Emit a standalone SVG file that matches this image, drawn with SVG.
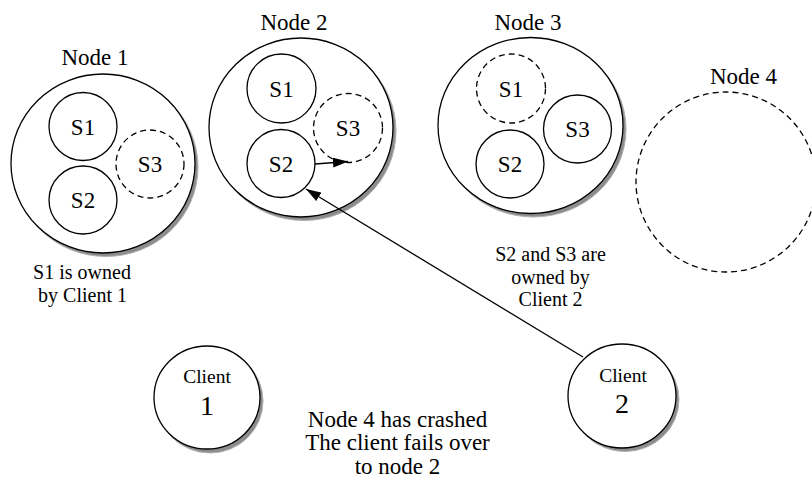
<svg xmlns="http://www.w3.org/2000/svg" width="812" height="482" viewBox="0 0 812 482">
  <defs>
    <marker id="arrow" viewBox="0 0 15 10" refX="15" refY="5" markerWidth="15" markerHeight="10" markerUnits="userSpaceOnUse" orient="auto">
      <path d="M0,0 L15,5 L0,10 Z" fill="#000"/>
    </marker>
  </defs>
  <style>
    text { font-family: 'Liberation Serif', 'DejaVu Serif', 'Times New Roman', Times, serif; fill: #000; text-anchor: middle; }
    .title { font-size: 23px; }
    .slot { font-size: 23px; }
    .note { font-size: 20px; }
    .big { font-size: 23px; }
    .cl { font-size: 19.5px; }
    .num { font-size: 28px; }
    .shadow { fill: #8c8c8c; stroke: #b0b0b0; stroke-width: 1; }
    .solid { fill: #fff; stroke: #000; stroke-width: 1.3; }
    .dashed { fill: none; stroke: #000; stroke-width: 1.3; stroke-dasharray: 6 4; }
    .link { fill: none; stroke: #000; stroke-width: 1.3; }
  </style>
  <rect width="812" height="482" fill="#fff"/>

  <g font-family="Liberation Serif, DejaVu Serif, serif">
  <!-- Node 1 -->
  <g id="node1">
    <text class="title" x="95" y="65">Node 1</text>
    <ellipse class="shadow" cx="106" cy="167" rx="92" ry="89.5"/>
    <ellipse class="solid" cx="103" cy="163.5" rx="92" ry="89.5"/>
    <circle class="solid" cx="83" cy="126.5" r="34"/>
    <text class="slot" x="83" y="134.5">S1</text>
    <circle class="solid" cx="83" cy="200" r="34"/>
    <text class="slot" x="83" y="208">S2</text>
    <circle class="dashed" cx="150" cy="164" r="34"/>
    <text class="slot" x="150" y="172">S3</text>
  </g>

  <!-- Node 2 -->
  <g id="node2">
    <text class="title" x="294" y="30">Node 2</text>
    <ellipse class="shadow" cx="304" cy="131" rx="92" ry="89.5"/>
    <ellipse class="solid" cx="301" cy="127.5" rx="92" ry="89.5"/>
    <circle class="solid" cx="281.5" cy="88.5" r="34.5"/>
    <text class="slot" x="281.5" y="96.5">S1</text>
    <circle class="solid" cx="281" cy="163.5" r="34"/>
    <text class="slot" x="281" y="171.5">S2</text>
    <circle class="dashed" cx="348" cy="128" r="34.5"/>
    <text class="slot" x="348" y="136">S3</text>
  </g>

  <!-- Node 3 -->
  <g id="node3">
    <text class="title" x="528" y="30">Node 3</text>
    <ellipse class="shadow" cx="533.5" cy="129" rx="92.5" ry="88"/>
    <ellipse class="solid" cx="530.5" cy="125.5" rx="92.5" ry="88"/>
    <circle class="dashed" cx="511" cy="88.5" r="34.5"/>
    <text class="slot" x="511" y="96.5">S1</text>
    <circle class="solid" cx="577.5" cy="129" r="34"/>
    <text class="slot" x="577.5" y="137">S3</text>
    <circle class="solid" cx="510" cy="164" r="34"/>
    <text class="slot" x="510" y="172">S2</text>
  </g>

  <!-- Node 4 (crashed) -->
  <g id="node4">
    <text class="title" x="743.5" y="84">Node 4</text>
    <ellipse class="dashed" cx="726" cy="182" rx="90" ry="90"/>
  </g>

  <!-- Clients -->
  <g id="client1">
    <ellipse class="shadow" cx="210" cy="401" rx="53" ry="52"/>
    <ellipse class="solid" cx="207" cy="397.5" rx="53" ry="51.5"/>
    <text class="cl" x="207" y="383">Client</text>
    <text class="num" x="207" y="415">1</text>
  </g>

  <g id="client2">
    <ellipse class="shadow" cx="625" cy="399.5" rx="54" ry="52"/>
    <ellipse class="solid" cx="622" cy="396" rx="54" ry="52"/>
    <text class="cl" x="623" y="382">Client</text>
    <text class="num" x="622" y="413">2</text>
  </g>

  <!-- Ownership notes -->
  <g id="notes">
    <text class="note" x="82" y="279">S1 is owned</text>
    <text class="note" x="82.5" y="302">by Client 1</text>
    <text class="note" x="550.5" y="261">S2 and S3 are</text>
    <text class="note" x="550.5" y="283.5">owned by</text>
    <text class="note" x="550.5" y="306">Client 2</text>
    <text class="big" x="397.5" y="427">Node 4 has crashed</text>
    <text class="big" x="397.5" y="450">The client fails over</text>
    <text class="big" x="397.5" y="474">to node 2</text>
  </g>
  </g>

  <!-- Connectors -->
  <g id="connectors">
    <line class="link" x1="315" y1="164" x2="348" y2="161.5" marker-end="url(#arrow)"/>
    <line class="link" x1="583" y1="357" x2="306" y2="189" marker-end="url(#arrow)"/>
  </g>
</svg>
